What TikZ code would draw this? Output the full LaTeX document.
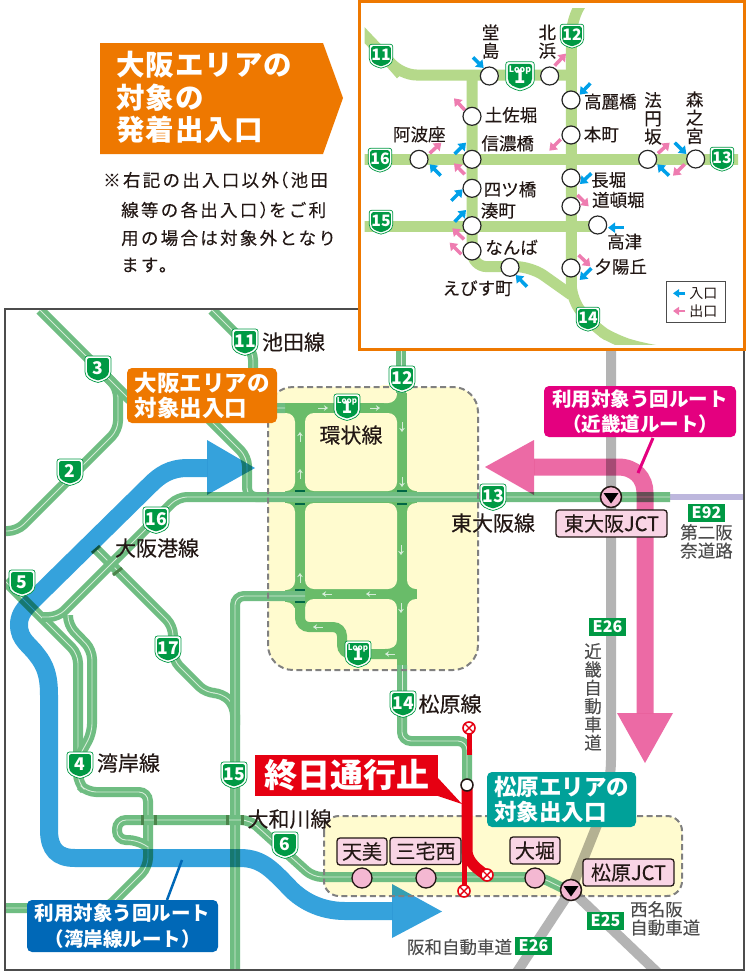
\documentclass[tikz,border=0pt]{standalone}
\usepackage{fontspec}
\setmainfont{Noto Sans CJK JP}
\usetikzlibrary{arrows.meta}
\definecolor{orangeL}{HTML}{EE7800}
\definecolor{blueL}{HTML}{0068B7}
\definecolor{magL}{HTML}{E4007F}
\definecolor{tealL}{HTML}{00A199}
\definecolor{redL}{HTML}{E60012}
\definecolor{blueR}{HTML}{35A2DC}
\definecolor{pinkR}{HTML}{EC6AA5}
\definecolor{paleR}{HTML}{6FBD82}
\definecolor{solidR}{HTML}{69BC69}
\definecolor{lineR}{HTML}{D5ECD8}
\definecolor{grayR}{HTML}{B4B4B4}
\definecolor{lavR}{HTML}{BDB7DD}
\definecolor{yel}{HTML}{FFFBCF}
\definecolor{shgreen}{HTML}{009944}
\definecolor{inset}{HTML}{B5D98A}
\definecolor{inB}{HTML}{00A0E9}
\definecolor{inP}{HTML}{EE7CB0}
\definecolor{pillF}{HTML}{F9D5E5}
\definecolor{statF}{HTML}{F4B8D2}
\definecolor{txt}{HTML}{231815}
\definecolor{gtxt}{HTML}{4D4D4D}
\newcommand\fz[2]{\fontsize{#1}{#2}\selectfont}
\def\shpath{(-10.5,-13) -- (10.5,-13) .. controls (12,-13) and (13,-12) .. (13,-10.5) -- (13,3) .. controls (13,9.5) and (6,12) .. (0,13.5) .. controls (-6,12) and (-13,9.5) .. (-13,3) -- (-13,-10.5) .. controls (-13,-12) and (-12,-13) .. (-10.5,-13) -- cycle}
\newcommand\mkshield[5]{%
 \begin{scope}[shift={(#2,#3)},x=#4pt,y=-#4pt]
  \filldraw[fill=white,draw=shgreen,line width=.7pt] \shpath;
  \fill[shgreen,scale=.84] \shpath;
  \pgfmathsetmacro\fs{17.5*#4}
  \node[inner sep=0,text=white,font=\bfseries\fz{\fs}{\fs}] (#1) at (0,-1) {#5};
 \end{scope}}
\newcommand\mkloop[4]{%
 \begin{scope}[shift={(#2,#3)},x=#4pt,y=-#4pt]
  \filldraw[fill=white,draw=shgreen,line width=.7pt] \shpath;
  \fill[shgreen,scale=.84] \shpath;
  \pgfmathsetmacro\fs{8*#4}
  \pgfmathsetmacro\fb{17*#4}
  \pgfmathsetmacro\fg{-4.5*#4}
  \node[inner sep=0,text=white,align=center,font=\bfseries] (#1) at (0,-1.25) {\fz{\fs}{\fs}Loop\\[\fg pt]\fz{\fb}{\fb}1};
 \end{scope}}
\newcommand\pale[1]{\draw[paleroad] #1; \draw[paleline] #1;}
\tikzset{
 paleroad/.style={draw=paleR,line width=10pt,rounded corners=9pt},
 paleline/.style={draw=lineR,line width=.9pt,rounded corners=9pt},
 solidroad/.style={draw=solidR,line width=10pt,rounded corners=9pt},
 cellbox/.style={fill=yel,rounded corners=9pt},
 larrow/.style={draw=lineR,line width=1pt,-{Stealth[length=4pt,width=5.5pt]}},
 bridge/.style={draw=black!55!blue!60!green,line width=2pt},
 ticks/.style={draw=black!45!green!40!gray,line width=3pt},
 tag/.style={inner sep=0,rounded corners=5pt,text=white,align=center},
 mapname/.style={inner sep=0,text=txt,font=\fz{21}{21}\addfontfeature{FakeBold=.25}},
 graytext/.style={inner sep=0,text=gtxt,align=left,font=\fz{17.5}{18.3}\addfontfeature{FakeBold=.1}},
 ebadge/.style={inner sep=0,fill=shgreen,text=white,minimum width=37pt,minimum height=18pt,font=\bfseries\fz{16}{16}},
 pill/.style={fill=pillF,draw=txt,line width=1.3pt,rounded corners=3pt,inner sep=0,text=txt,font=\fz{20}{20}\addfontfeature{FakeBold=.2}},
 stat/.style={circle,fill=statF,draw=txt,line width=1.3pt,minimum size=20pt,inner sep=0},
 jct/.style={circle,fill=statF,draw=txt,line width=1.5pt,minimum size=21pt,inner sep=0},
 xmark/.style={circle,fill=white,draw=redL,line width=1.6pt,minimum size=12pt,inner sep=0,path picture={\draw[redL,line width=1.4pt] (path picture bounding box.south west)--(path picture bounding box.north east) (path picture bounding box.north west)--(path picture bounding box.south east);}},
 stn/.style={circle,fill=white,draw=black!85,line width=1.2pt,minimum size=18pt,inner sep=0},
 instext/.style={inner sep=0,text=txt,align=center,font=\fz{17.5}{18.3}\addfontfeature{FakeBold=.1}},
 inblue/.style={draw=inB,line width=3.5pt,-{Triangle[length=7pt,width=10pt]}},
 inpink/.style={draw=inP,line width=3.5pt,-{Triangle[length=7pt,width=10pt]}},
 notetext/.style={inner sep=0,anchor=west,text=txt,font=\fz{17.5}{17.5}\addfontfeature{LetterSpace=13,FakeBold=.1}}
}
\begin{document}
\begin{tikzpicture}[x=1pt,y=-1pt]
\useasboundingbox (0,0) rectangle (750,972);
\fill[white] (0,0) rectangle (750,972);
% title
\fill[orangeL] (100,43) -- (323,43) -- (343,98) -- (323,154) -- (100,154) -- cycle;
\node[inner sep=0,anchor=north west,text=white,align=left,font=\bfseries\fz{28.5}{32.5}\addfontfeature{LetterSpace=3.5}] (title) at (116,51) {大阪エリアの\\対象の\\発着出入口};
\node[notetext] (note1) at (103,180) {※右記の出入口以外\hspace{-8pt}（池田};
\node[notetext] (note2) at (121,210) {線等の各出入口）\hspace{-8pt}をご利};
\node[notetext] (note3) at (121,238) {用の場合は対象外となり};
\node[notetext] (note4) at (121,265) {ます。};
% main map
\begin{scope}
\clip (5,309) rectangle (744,970);
% yellow zones
\fill[yel,rounded corners=25pt] (268,387) rectangle (478,670);
\fill[yel,rounded corners=15pt] (324,816) rectangle (682,896);
% loop grid
\fill[solidR] (285,403) rectangle (417,608);
\fill[solidR] (388,393) rectangle (407,403);
\fill[cellbox] (275,413) rectangle (295,491);
\fill[cellbox] (305,413) rectangle (397,491);
\fill[cellbox] (375,385) rectangle (397,403);
\fill[cellbox] (407,388) rectangle (440,491);
\fill[cellbox] (275,503) rectangle (295,590);
\fill[cellbox] (305,503) rectangle (397,589);
\fill[cellbox] (407,503) rectangle (440,589);
\fill[cellbox] (275,602) rectangle (295,630);
\fill[cellbox] (305,599) rectangle (397,630);
\fill[cellbox] (407,599) rectangle (440,630);
\draw[solidroad] (277,408) -- (300,408);
\draw[solidroad] (300,600) -- (300,627) -- (342,627) -- (342,654) -- (397,654);
\draw[solidroad,rounded corners=0pt] (402,600) -- (402,667);
\fill[solidR] (385,649) -- (397,649) -- (397,640) .. controls (397,646) and (393,649) .. (385,649) -- cycle;
% pale roads
\draw[draw=lavR,line width=6pt] (670,497) -- (745,497);
\pale{(5,531) -- (17,531) -- (118,430) -- (118,388) -- (40,310)}
\pale{(105,375) -- (135,405) -- (195,405) -- (247,457) -- (247,497) -- (265,497)}
\pale{(212,310) -- (253,351) -- (253,408) -- (285,408)}
\pale{(97,550) -- (173,626) -- (173,660) -- (206,693) -- (222,693) -- (235,706) -- (235,725)}
\pale{(235,975) -- (235,596) -- (305,596)}
\pale{(5,581) -- (78,654) -- (78,783) -- (87,792) -- (148,792) -- (148,867) -- (107,908) -- (5,908)}
\pale{(68,615) -- (68,625) -- (92,650) -- (92,733) -- (80,755)}
\pale{(148,847) -- (137,840) -- (117,840) -- (117,820) -- (250,820) -- (313,877) -- (540,877) -- (571,892)}
\pale{(670,497) -- (178,497) -- (58,617) -- (42,617)}
\pale{(401,349) -- (401,393)}
\pale{(402,665) -- (402,741) -- (467,741) -- (467,790)}
\draw[paleroad,rounded corners=0pt] (402,665) -- (402,700);
\draw[paleline,rounded corners=0pt] (402,665) -- (402,700);
% loop arrows
\foreach \xa/\ya/\xb/\yb in {300/442/300/432, 300/479/300/469, 300/583/300/573, 318/408/328/408, 370/408/380/408, 402/422/402/432, 402/477/402/487, 401/545/401/555, 401/603/401/613, 332/594/322/594, 376/594/366/594, 323/627/313/627, 395/654/385/654}
  \draw[larrow] (\xa,\ya) -- (\xb,\yb);
% bridge marks
\foreach \x in {300,402} {
  \draw[bridge] (\x-5,490.5) -- (\x+5,490.5);
  \draw[bridge] (\x-5,504) -- (\x+5,504);
}
\draw[bridge] (295,590) -- (305,590);
\draw[bridge] (295,602) -- (305,602);
\foreach \x in {142,155,227,242} \draw[ticks] (\x,815) -- (\x,825);
\draw[ticks] (92,553) -- (100,546);
\draw[ticks] (113,575) -- (122,568);
% routes
\begin{scope}[blend mode=multiply]
\draw[blueR,line width=18pt] (207,468) -- (188,468) .. controls (170,468) and (160,475) .. (150,485) -- (30,603) .. controls (22,611) and (19,617) .. (19,625) .. controls (19,640) and (30,645) .. (37,655) .. controls (45,665) and (49,675) .. (49,695) -- (49,830) .. controls (49,850) and (58,858) .. (75,858) -- (240,858) .. controls (262,858) and (272,870) .. (287,885) .. controls (300,900) and (320,911) .. (345,911) -- (392,911);
\fill[blueR] (207,440) -- (255,468) -- (207,495) -- cycle;
\fill[blueR] (392,884) -- (442,911.5) -- (392,938) -- cycle;
\draw[grayR,line width=10pt,rounded corners=30pt] (611,340) -- (611,790) -- (571,890);
\draw[grayR,line width=10pt] (571,890) -- (515,975);
\draw[grayR,line width=10pt] (571,890) -- (660,975);
\draw[pinkR,line width=17pt] (534,467) -- (618,467) .. controls (635,467) and (645,478) .. (645,493) -- (645,713);
\fill[pinkR] (534,440) -- (485,467) -- (534,495) -- cycle;
\fill[pinkR] (617,713) -- (673,713) -- (645,763) -- cycle;
\end{scope}
% dashed borders
\draw[gray,line width=2pt,dash pattern=on 6pt off 3.5pt,rounded corners=25pt] (268,387) rectangle (478,670);
\draw[gray,line width=2pt,dash pattern=on 6pt off 3.5pt,rounded corners=15pt] (324,816) rectangle (682,896);
\end{scope}
% frame
\draw[black!70,line width=1.3pt] (5,309) rectangle (744,970);
% shields
\mkshield{s11}{245}{342}{1}{11}
\mkshield{s3}{98}{369}{1}{3}
\mkshield{s2}{70}{472}{1}{2}
\mkshield{s16}{156}{520}{1}{16}
\mkshield{s5}{22}{583}{1}{5}
\mkshield{s17}{168}{649}{1}{17}
\mkshield{s4}{80}{765}{1}{4}
\mkshield{s15}{234}{775}{1}{15}
\mkshield{s6}{285}{845}{1}{6}
\mkshield{s12}{402}{379}{1}{12}
\mkshield{s13}{493}{497}{1}{13}
\mkshield{s14}{403}{704}{1}{14}
\mkloop{lpA}{347}{407}{1}
\mkloop{lpB}{358}{654}{1}
% map names
\node[mapname] (n1) at (293.5,342) {池田線};
\node[mapname] (n2) at (351,435) {環状線};
\node[mapname] (n3) at (157,548) {大阪港線};
\node[mapname] (n4) at (493,523) {東大阪線};
\node[mapname] (n5) at (450,704) {松原線};
\node[mapname] (n6) at (128.5,763) {湾岸線};
\node[mapname] (n7) at (289.5,819) {大和川線};
% gray labels
\node[ebadge] (e92) at (706.5,513) {E92};
\node[graytext,anchor=north west] (t92) at (680,524) {第二阪\\奈道路};
\node[ebadge] (e26a) at (607.5,627) {E26};
\node[graytext,align=center,anchor=north] (t26) at (593,643) {近\\畿\\自\\動\\車\\道};
\node[ebadge] (e25) at (605.5,920.5) {E25};
\node[graytext,anchor=north west] (t25) at (630,901) {西名阪\\自動車道};
\node[graytext] (t26b) at (459.5,947) {阪和自動車道};
\node[ebadge] (e26b) at (533.5,945.5) {E26};
% red closure
\draw[redL,line width=5pt] (469,728) -- (469,755);
\draw[redL,line width=5pt] (464,850) -- (464,892);
\draw[redL,line width=11pt] (467,785) -- (467,850) .. controls (467,858) and (472,866) .. (486,875);
\fill[redL] (255,755) rectangle (438,796);
\fill[redL] (438,778) -- (462,804) -- (438,796) -- cycle;
\node[inner sep=0,text=white,font=\bfseries\fz{33}{33}] (closed) at (347,775) {終日通行止};
\node[stat,fill=white,minimum size=12pt,line width=1.5pt] (sclose) at (467,785) {};
\node[xmark] (x1) at (469,728) {};
\node[xmark] (x2) at (487,875) {};
\node[xmark] (x3) at (464,891) {};
% stations + pills
\node[stat] (c1) at (362,878) {};
\node[stat] (c2) at (426,878) {};
\node[stat] (c3) at (535,878) {};
\node[pill,minimum width=50pt,minimum height=27pt] (p1) at (362,851.5) {天美};
\node[pill,minimum width=71pt,minimum height=27pt] (p2) at (425.5,851) {三宅西};
\node[pill,minimum width=50pt,minimum height=27pt] (p3) at (535,850.5) {大堀};
\node[pill,minimum width=91pt,minimum height=27pt] (p4) at (628.5,872.5) {松原JCT};
\node[pill,minimum width=111pt,minimum height=27pt] (p5) at (611.5,523.5) {東大阪JCT};
\node[jct] (j1) at (611,497) {};
\fill[black] (603.5,493) -- (618.5,493) -- (611,503.5) -- cycle;
\node[jct] (j2) at (571,890) {};
\fill[black] (563.5,886) -- (578.5,886) -- (571,896.5) -- cycle;
% tags
\draw[blueL,line width=2.5pt] (182,860) -- (167,900);
\draw[magL,line width=3pt] (653,438) -- (638,473);
\node[tag,fill=orangeL,align=left,minimum width=150pt,minimum height=55pt,font=\bfseries\fz{22.5}{25}] (tagA) at (202,395.5) {大阪エリアの\\対象出入口};
\node[tag,fill=magL,minimum width=192pt,minimum height=51pt,font=\bfseries\fz{19.5}{25}] (tagB) at (640,411.5) {利用対象う回ルート\\（近畿道ルート）};
\node[tag,fill=blueL,minimum width=191pt,minimum height=52pt,font=\bfseries\fz{19.5}{26}] (tagC) at (122.5,926) {利用対象う回ルート\\（湾岸線ルート）};
\node[tag,fill=tealL,align=left,minimum width=149pt,minimum height=55pt,font=\bfseries\fz{22.5}{25}] (tagD) at (561.5,799.5) {松原エリアの\\対象出入口};
% inset
\filldraw[fill=white,draw=orangeL,line width=3pt] (359.5,1) rectangle (744,349.5);
\begin{scope}[shift={(358,0)},x=1/3*1pt,y=-1/3*1pt]
\begin{scope}
\clip (20,25) rectangle (1140,1035);
\begin{scope}[draw=inset,line width=11pt,rounded corners=15pt]
\draw (5,90) -- (100,190) -- (130,225) -- (640,225);
\draw (670,10) -- (640,60) -- (640,900) -- (710,982) -- (770,1020) -- (855,1046) -- (950,1060);
\draw (342,225) -- (342,800) -- (520,800) -- (640,885);
\draw (5,479) -- (1150,479);
\draw (5,680) -- (720,680);
\end{scope}
\end{scope}
\foreach \n/\x/\y in {a/394/228,b/575/228,c/639/300,d/342/349,e/639/405,f/183/478,g/342/478,h/869/478,i/1013/477,j/639/534,k/342/565,l/639/619,m/342/677,o/719/675,p/342/753,q/456/802,r/639/804}
  \node[stn] (st\n) at (\x,\y) {};
\foreach \xa/\ya/\xb/\yb in {345/172/377/204, 697/250/665/284, 290/462/324/428, 248/527/215/493, 950/428/985/462, 933/527/898/493, 700/520/666/552, 280/602/314/568, 290/665/324/630, 797/683/750/683, 507/860/473/825, 700/805/665/840}
  \draw[inblue] (\xa,\ya) -- (\xb,\yb);
\foreach \xa/\ya/\xb/\yb in {590/197/624/161, 320/330/288/295, 608/418/574/452, 215/460/250/428, 320/523/288/490, 900/460/935/428, 980/493/945/527, 658/585/692/619, 318/718/283/685, 310/763/275/728, 662/765/697/799}
  \draw[inpink] (\xa,\ya) -- (\xb,\yb);
\node[instext] (l1) at (398,125) {堂\\島};
\node[instext] (l2) at (568,125) {北\\浜};
\node[instext] (l3) at (459,345) {土佐堀};
\node[instext] (l4) at (757,305) {高麗橋};
\node[instext] (l5) at (730,403) {本町};
\node[instext] (l6) at (449,430) {信濃橋};
\node[instext] (l7) at (184,403) {阿波座};
\node[instext] (l8) at (885,355) {法\\円\\坂};
\node[instext] (l9) at (1010,353) {森\\之\\宮};
\node[instext] (l10) at (752,540) {長堀};
\node[instext] (l11) at (456,568) {四ツ橋};
\node[instext] (l12) at (781,600) {道頓堀};
\node[instext] (l13) at (421,632) {湊町};
\node[instext] (l14) at (800,725) {高津};
\node[instext] (l15) at (461,742) {なんば};
\node[instext] (l16) at (359,865) {えびす町};
\node[instext] (l17) at (788,800) {夕陽丘};
% legend
\node[draw=black!70,line width=.8pt,fill=white,inner sep=0,minimum width=59pt,minimum height=41pt] (legend) at (1014,905) {};
\draw[inB,line width=2.5pt,-{Triangle[length=6pt,width=8pt]}] (982,880) -- (945,880);
\draw[inP,line width=2.5pt,-{Triangle[length=6pt,width=8pt]}] (982,933) -- (945,933);
\node[inner sep=0,text=txt,font=\fz{14}{14}] (lg1) at (1036,880) {入口};
\node[inner sep=0,text=txt,font=\fz{14}{14}] (lg2) at (1036,934) {出口};
\end{scope}
\mkshield{i11}{381}{56}{.9}{11}
\mkshield{i12}{572}{36}{.9}{12}
\mkloop{iL}{520}{76}{1.1}
\mkshield{i16}{380}{160}{.9}{16}
\mkshield{i13}{722}{159}{.9}{13}
\mkshield{i15}{381}{222}{.9}{15}
\mkshield{i14}{588}{319}{.9}{14}
\end{tikzpicture}
\end{document}
